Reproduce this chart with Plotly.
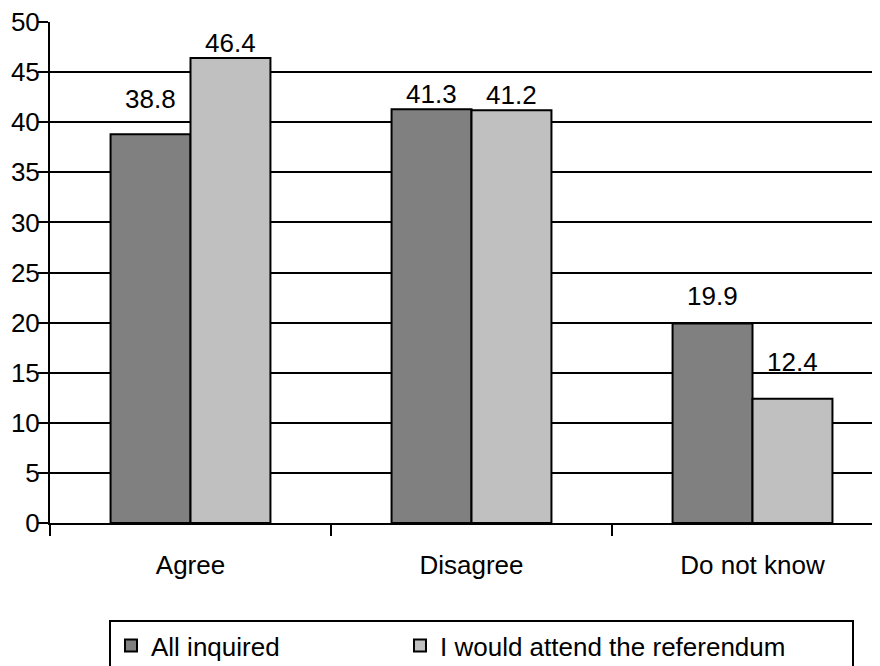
import plotly.graph_objects as go

categories = ["Agree", "Disagree", "Do not know"]
series_names = ["All inquired", "I would attend the referendum"]
all_inquired = [38.8, 41.3, 19.9]
attend_referendum = [46.4, 41.2, 12.4]
y_ticks = [0, 5, 10, 15, 20, 25, 30, 35, 40, 45, 50]

colors = ["#808080", "#c0c0c0"]
label_yshift = [[35, 15, 28], [15, 15, 37]]
label_xshift = [-40, 40]
legend_widths = [244, 407]

FONT = "Liberation Sans, Arial, sans-serif"
FS = 26

fig = go.Figure()
for i, (name, vals) in enumerate(zip(series_names, [all_inquired, attend_referendum])):
    fig.add_trace(go.Bar(
        x=categories, y=vals, name=name, legendwidth=legend_widths[i],
        marker=dict(color=colors[i], line=dict(color="black", width=2)),
    ))
    for c, v, ys in zip(categories, vals, label_yshift[i]):
        fig.add_annotation(x=c, y=v, text=f"{v:.1f}", showarrow=False,
                           xshift=label_xshift[i], yshift=ys,
                           font=dict(size=FS, color="black", family=FONT))

fig.update_layout(
    width=880, height=666,
    margin=dict(l=42, r=0, t=14, b=151, autoexpand=False),
    paper_bgcolor="white", plot_bgcolor="white",
    font=dict(family=FONT, size=FS, color="black"),
    barmode="group", bargap=0.431, bargroupgap=0,
    showlegend=True,
    legend=dict(orientation="h", x=0.0704, xanchor="left", y=-0.1936, yanchor="top",
                bordercolor="black", borderwidth=2, bgcolor="white",
                font=dict(size=FS, color="black", family=FONT)),
)
fig.update_yaxes(range=[0, 50], tickvals=y_ticks, showgrid=True, gridcolor="black", gridwidth=2,
                 showline=True, linecolor="black", linewidth=2, zeroline=False,
                 ticks="outside", ticklen=10, tickwidth=2, tickcolor="black",
                 ticklabelstandoff=-7, ticklabeloverflow="allow",
                 tickfont=dict(size=FS, color="black"))
fig.update_xaxes(type="category", range=[-0.5, 2.4822], tickson="boundaries",
                 showgrid=False, showline=True, linecolor="black", linewidth=2,
                 ticks="outside", ticklen=11, tickwidth=2, tickcolor="black",
                 ticklabelstandoff=18, tickfont=dict(size=FS, color="black"))

fig.write_html("out.html")
